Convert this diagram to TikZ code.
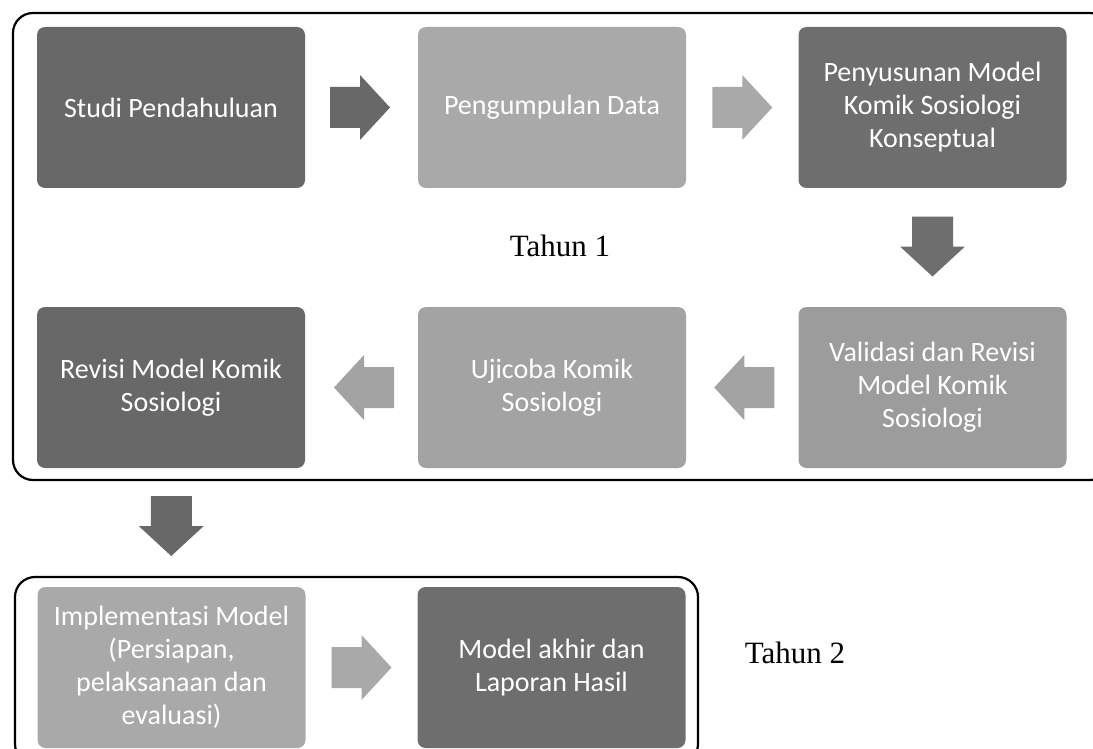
\documentclass[tikz,border=0pt]{standalone}
\usepackage{fontspec}
\setmainfont{Liberation Serif}
\newfontfamily\boxfont{Carlito}
\usetikzlibrary{calc}
\definecolor{darkA}{RGB}{104,104,104}
\definecolor{darkB}{RGB}{110,110,110}
\definecolor{lightA}{RGB}{169,169,169}
\definecolor{lightB}{RGB}{163,163,163}
\definecolor{lightC}{RGB}{156,156,156}
\tikzset{
  stepbox/.style={rectangle, rounded corners=8pt, minimum width=268pt, minimum height=161pt,
    inner sep=0pt, text=white, align=center,
    font=\boxfont\fontsize{28}{33}\selectfont},
  frame/.style={draw=black, line width=2.2pt, rounded corners=20pt},
  yearlabel/.style={font=\fontsize{31}{36}\selectfont, inner sep=0pt}
}
% block arrow centred on a named coordinate: #1 coordinate, #2 direction angle, #3 colour
\newcommand{\myblockarrow}[3]{%
  \fill[#3, shift={(#1)}, rotate=#2]
    (-30,-20.5) -- (0,-20.5) -- (0,-32.5) -- (30,0) -- (0,32.5) -- (0,20.5) -- (-30,20.5) -- cycle;}
\begin{document}
\begin{tikzpicture}[x=1pt,y=-1pt]
\useasboundingbox (0,0) rectangle (1093,749);
\clip (0,0) rectangle (1093,749);
% frames
\draw[frame] (13,13) rectangle (1110,480);
\draw[frame] (15,577) rectangle (698,764);
% boxes
\node[stepbox, fill=darkA]  (b1) at (171,107.5) {Studi Pendahuluan};
\node[stepbox, fill=lightA] (b2) at (552,107.5) {Pengumpulan Data};
\node[stepbox, fill=darkB]  (b3) at (932.5,107.5) {Penyusunan Model\\Komik Sosiologi\\Konseptual};
\node[stepbox, fill=lightC] (b6) at (932.5,387.5) {Validasi dan Revisi\\Model Komik\\Sosiologi};
\node[stepbox, fill=lightB] (b5) at (552,387.5) {Ujicoba Komik\\Sosiologi};
\node[stepbox, fill=darkA]  (b4) at (171,387.5) {Revisi Model Komik\\Sosiologi};
\node[stepbox, fill=lightA] (b7) at (171.5,667.5) {Implementasi Model\\(Persiapan,\\pelaksanaan dan\\evaluasi)};
\node[stepbox, fill=darkB]  (b8) at (551.5,667.5) {Model akhir dan\\Laporan Hasil};
% arrows between boxes
\coordinate (a1) at ($(b1.east)!0.5!(b2.west)+(-1.5,0)$);
\coordinate (a2) at ($(b2.east)!0.5!(b3.west)$);
\coordinate (a3) at ($(b3.south)!0.5!(b6.north)+(0,-1)$);
\coordinate (a4) at ($(b6.west)!0.5!(b5.east)+(2,0)$);
\coordinate (a5) at ($(b5.west)!0.5!(b4.east)+(2.5,0)$);
\coordinate (a6) at ($(b4.south)!0.5!(b7.north)+(0,-1.5)$);
\coordinate (a7) at ($(b7.east)!0.5!(b8.west)$);
\myblockarrow{a1}{0}{darkA}
\myblockarrow{a2}{0}{lightA}
\myblockarrow{a3}{270}{darkB}
\myblockarrow{a4}{180}{lightB}
\myblockarrow{a5}{180}{lightB}
\myblockarrow{a6}{270}{darkA}
\myblockarrow{a7}{0}{lightA}
% year labels
\node[yearlabel] (t1) at (560,246) {Tahun 1};
\node[yearlabel] (t2) at (795,653) {Tahun 2};
\end{tikzpicture}
\end{document}
